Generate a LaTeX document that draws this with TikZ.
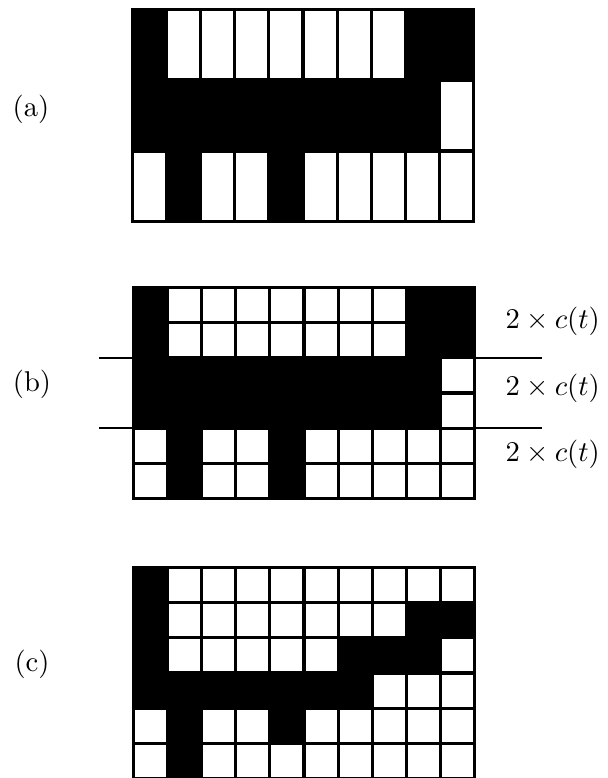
\documentclass[tikz,border=0pt]{standalone}
\tikzset{
  lbl/.style={inner sep=0pt, font=\fontsize{10}{12}\selectfont, scale=2.86, transform shape},
  panelbox/.style={fill=black, draw=black, line width=2.5pt},
  cutline/.style={draw=black, line width=2.6pt}
}
% #1 x0, #2 y0, #3 cell width, #4 cell height, #5 row, #6 list of white columns
\newcommand\whitecells[6]{%
  \foreach \c in {#6}{%
    \fill[white] ({#1+(\c-1)*#3+1.6},{#2+(#5-1)*#4+1.6}) rectangle ({#1+\c*#3-1.6},{#2+#5*#4-1.6});
  }%
}
\begin{document}
\begin{tikzpicture}[x=1pt,y=-1pt]
\useasboundingbox (0,0) rectangle (607,778);
% ---------- panel (a)
\draw[panelbox] (132,9) rectangle (474,222);
\whitecells{132}{9}{34.2}{71}{1}{2,3,4,5,6,7,8}
\whitecells{132}{9}{34.2}{71}{2}{10}
\whitecells{132}{9}{34.2}{71}{3}{1,3,4,6,7,8,9,10}
\node[lbl] (la) at (31,109) {(a)};
% ---------- panel (b)
\draw[panelbox] (133,287) rectangle (475,499);
\whitecells{133}{287}{34.2}{35.333}{1}{2,3,4,5,6,7,8}
\whitecells{133}{287}{34.2}{35.333}{2}{2,3,4,5,6,7,8}
\whitecells{133}{287}{34.2}{35.333}{3}{10}
\whitecells{133}{287}{34.2}{35.333}{4}{10}
\whitecells{133}{287}{34.2}{35.333}{5}{1,3,4,6,7,8,9,10}
\whitecells{133}{287}{34.2}{35.333}{6}{1,3,4,6,7,8,9,10}
\coordinate (l1a) at (99,358);
\coordinate (l1b) at (542,358);
\coordinate (l2a) at (99,428);
\coordinate (l2b) at (542,428);
\draw[cutline] (l1a) -- (l1b);
\draw[cutline] (l2a) -- (l2b);
\node[lbl] (lb) at (32,384) {(b)};
\node[lbl, anchor=west] (r1) at (505,321) {$2\times c(t)$};
\node[lbl, anchor=west] (r2) at (505,388) {$2\times c(t)$};
\node[lbl, anchor=west] (r3) at (505,454) {$2\times c(t)$};
% ---------- panel (c)
\draw[panelbox] (133,567) rectangle (475,779);
\whitecells{133}{567}{34.2}{35.333}{1}{2,3,4,5,6,7,8,9,10}
\whitecells{133}{567}{34.2}{35.333}{2}{2,3,4,5,6,7,8}
\whitecells{133}{567}{34.2}{35.333}{3}{2,3,4,5,6,10}
\whitecells{133}{567}{34.2}{35.333}{4}{8,9,10}
\whitecells{133}{567}{34.2}{35.333}{5}{1,3,4,6,7,8,9,10}
\whitecells{133}{567}{34.2}{35.333}{6}{1,3,4,5,6,7,8,9,10}
\node[lbl] (lc) at (32,664) {(c)};
\end{tikzpicture}
\end{document}
